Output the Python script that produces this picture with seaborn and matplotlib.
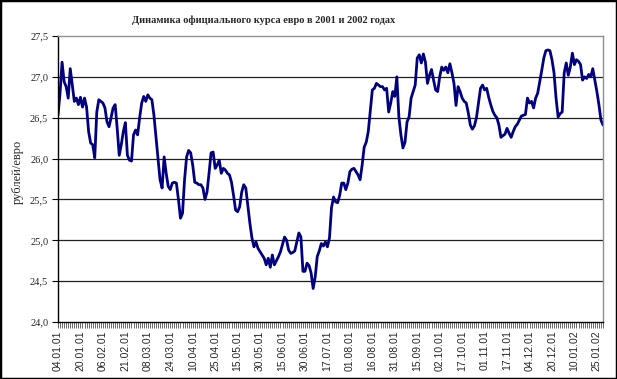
import numpy as np
import pandas as pd
import matplotlib
matplotlib.use("Agg")
import matplotlib.pyplot as plt
import seaborn as sns
from matplotlib.patches import Rectangle
from matplotlib.ticker import FuncFormatter

# ---- data (rub/EUR, daily official rate) ----
rate_part1 = [26.53, 26.80, 27.18, 26.94, 26.88, 26.74, 27.10, 26.90, 26.70, 26.74,
              26.66, 26.75, 26.63, 26.74, 26.63, 26.33, 26.19, 26.17, 26.01, 26.57,
              26.72, 26.70, 26.68, 26.62, 26.45, 26.39, 26.50, 26.62, 26.66, 26.37,
              26.04, 26.17, 26.33, 26.44, 26.04, 25.98, 25.97, 26.29, 26.35, 26.29,
              26.50, 26.68, 26.76, 26.70, 26.78, 26.74, 26.72, 26.53, 26.26, 26.00,
              25.74, 25.64, 26.02, 25.82, 25.66, 25.62, 25.70, 25.71, 25.70, 25.50]
rate_part2 = [25.27, 25.33, 25.74, 26.02, 26.10, 26.07, 25.92, 25.71, 25.70, 25.68,
              25.68, 25.64, 25.50, 25.59, 25.82, 26.07, 26.08, 25.88, 25.92, 25.98,
              25.82, 25.88, 25.86, 25.82, 25.80, 25.71, 25.55, 25.37, 25.35, 25.41,
              25.59, 25.68, 25.64, 25.43, 25.21, 25.03, 24.92, 24.98, 24.90, 24.86,
              24.82, 24.78, 24.70, 24.78, 24.67, 24.82, 24.70, 24.75, 24.80, 24.86,
              24.95, 25.04, 25.00, 24.88, 24.84, 24.85, 24.87, 24.98, 25.09, 25.04]
rate_part3 = [24.62, 24.62, 24.72, 24.69, 24.60, 24.41, 24.55, 24.80, 24.87, 24.96,
              24.93, 24.98, 24.92, 25.03, 25.40, 25.53, 25.47, 25.46, 25.55, 25.70,
              25.70, 25.62, 25.70, 25.84, 25.87, 25.88, 25.84, 25.80, 25.74, 25.92,
              26.14, 26.20, 26.33, 26.59, 26.84, 26.86, 26.92, 26.90, 26.88, 26.88,
              26.84, 26.86, 26.57, 26.68, 26.82, 26.76, 27.00, 26.51, 26.29, 26.13,
              26.20, 26.45, 26.51, 26.74, 26.82, 26.90, 27.23, 27.27, 27.17, 27.28]
rate_part4 = [27.18, 26.92, 27.02, 27.09, 26.96, 26.84, 26.82, 27.00, 27.12, 27.08,
              27.12, 27.05, 27.16, 27.05, 26.92, 26.65, 26.88, 26.82, 26.74, 26.70,
              26.68, 26.56, 26.41, 26.36, 26.40, 26.50, 26.68, 26.86, 26.90, 26.84,
              26.86, 26.75, 26.66, 26.58, 26.53, 26.50, 26.41, 26.26, 26.28, 26.30,
              26.37, 26.31, 26.26, 26.33, 26.39, 26.42, 26.47, 26.52, 26.53, 26.54,
              26.74, 26.68, 26.70, 26.62, 26.74, 26.80, 26.94, 27.08, 27.23, 27.32]
rate_part5 = [27.33, 27.32, 27.21, 27.05, 26.74, 26.51, 26.55, 26.57, 27.05, 27.17,
              27.02, 27.12, 27.29, 27.15, 27.21, 27.19, 27.15, 26.96, 27.00, 26.98,
              27.03, 27.00, 27.10, 26.96, 26.82, 26.66, 26.47, 26.41]

tick_labels = ["04.01.01", "20.01.01", "06.02.01", "21.02.01", "08.03.01", "24.03.01",
               "10.04.01", "25.04.01", "15.05.01", "30.05.01", "15.06.01", "30.06.01",
               "17.07.01", "01.08.01", "16.08.01", "31.08.01", "15.09.01", "02.10.01",
               "17.10.01", "01.11.01", "17.11.01", "04.12.01", "20.12.01", "10.01.02",
               "25.01.02"]
label_step = 11
title = "Динамика официального курса евро в 2001 и 2002 годах"
ylabel = "рублей/евро"

rates = rate_part1 + rate_part2 + rate_part3 + rate_part4 + rate_part5
df = pd.DataFrame({"day": np.arange(len(rates)), "rate": rates})

sns.set_style("white")
plt.rcParams['font.family'] = ['Liberation Serif', 'DejaVu Serif']

W, H = 617, 379
fig = plt.figure(figsize=(W / 100, H / 100), dpi=100)
ax = fig.add_axes([58 / W, 1 - 322 / H, (603 - 58) / W, (322 - 36) / H])

for yv in np.arange(24.5, 27.01, 0.5):
    ax.axhline(yv, color="#202020", lw=0.9, zorder=0)

sns.lineplot(data=df, x="day", y="rate", ax=ax, color="#000080", linewidth=2.0)

ax.set_xlim(0, len(rates) - 1)
ax.set_ylim(24.0, 27.5)
ax.set_yticks(np.arange(24.0, 27.51, 0.5))
ax.yaxis.set_major_formatter(FuncFormatter(lambda v, p: f"{v:.1f}".replace(".", ",")))
ax.set_xticks(range(len(rates)))
labels = [""] * len(rates)
for k, lab in enumerate(tick_labels):
    labels[k * label_step] = lab
ax.set_xticklabels(labels, rotation=90, fontfamily=['Liberation Sans'], fontsize=7.5)
ax.tick_params(axis='x', bottom=True, length=4, width=0.5, color='#303030', pad=2)
ax.tick_params(axis='y', left=True, length=4, width=0.8, color='black', labelsize=7.5, pad=3)
ax.set_xlabel("")
ax.set_ylabel("")

ax.spines['left'].set_color('black')
ax.spines['bottom'].set_color('black')
ax.spines['top'].set_color('#909090')
ax.spines['right'].set_color('#909090')
for s in ax.spines.values():
    s.set_linewidth(1.0)

fig.text(264 / W, 1 - 20 / H, title, ha='center', va='center', fontweight='bold', fontsize=7.5)
fig.text(18 / W, 1 - 172 / H, ylabel, rotation=90, ha='center', va='center', fontsize=9)

fig.add_artist(Rectangle((0, 0), 1, 1, transform=fig.transFigure, fill=False,
                         edgecolor='black', lw=2.5))

fig.savefig("out.png", dpi=100)
